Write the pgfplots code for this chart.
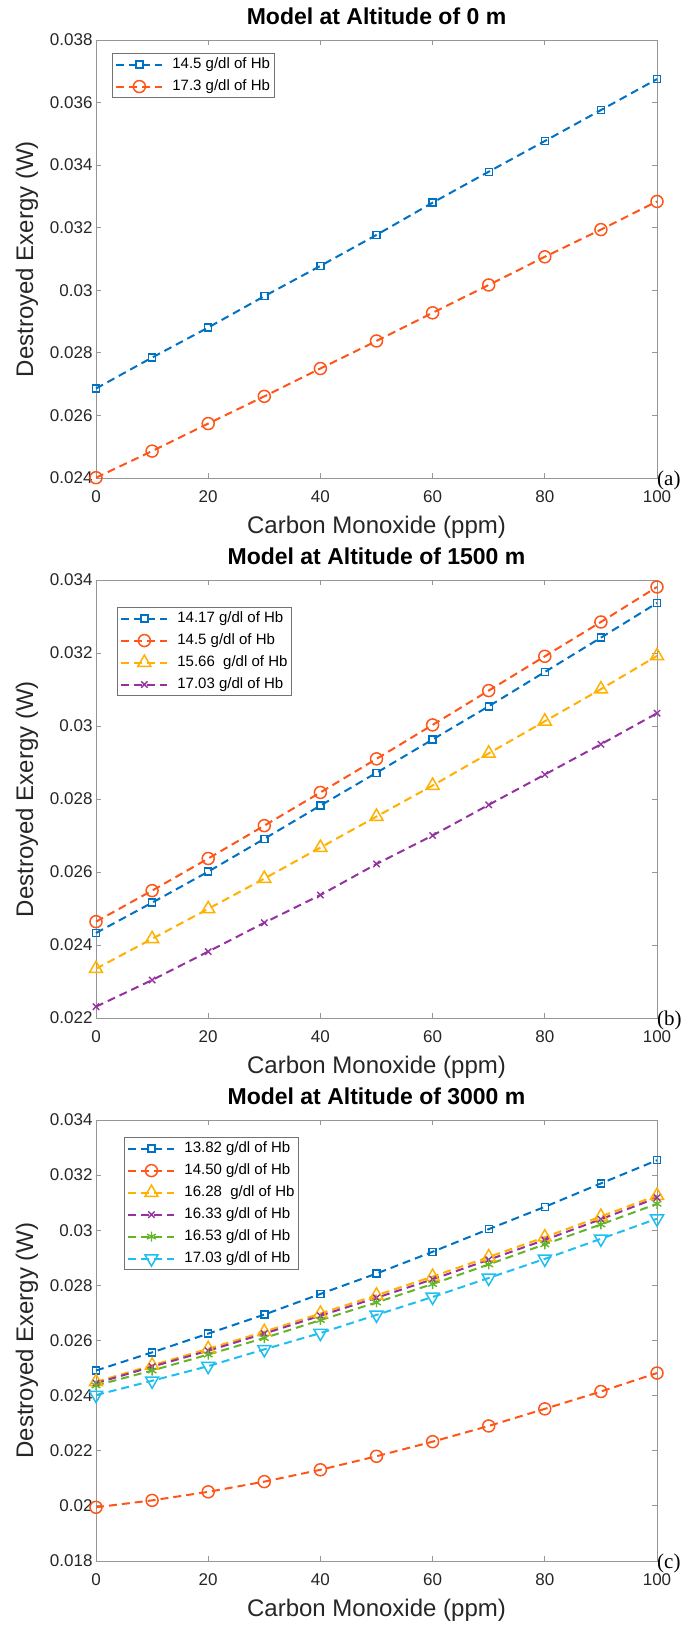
\documentclass[border=0pt]{standalone}
\usepackage{fontspec}
\setmainfont{Liberation Sans}
\newfontfamily\timesfont{Liberation Serif}
\usepackage{pgfplots}
\pgfplotsset{compat=1.18}
\definecolor{cb}{RGB}{0,114,196}
\definecolor{co}{RGB}{255,85,25}
\definecolor{cy}{RGB}{255,176,0}
\definecolor{cp}{RGB}{150,50,160}
\definecolor{cg}{RGB}{100,180,40}
\definecolor{cc}{RGB}{30,190,240}
\definecolor{axgray}{RGB}{150,150,150}
\pgfplotsset{
 panel/.style={
  width=561pt, scale only axis, xmin=0, xmax=100,
  xtick={0,20,40,60,80,100}, xticklabels={0,20,40,60,80,100},
  scaled y ticks=false, tick align=inside, major tick length=5pt,
  axis line style={draw=axgray, line width=0.9pt},
  tick style={draw=axgray, line width=0.9pt},
  ticklabel style={font=\fontsize{17}{20}\selectfont, text=black!85},
  xticklabel style={yshift=-9pt},
  label style={font=\fontsize{24}{28}\selectfont, text=black!85},
  title style={font=\bfseries\fontsize{23}{26}\selectfont, at={(axis description cs:0.5,1.04)}, anchor=center, yshift=0pt},
  xlabel style={at={(axis description cs:0.5,-0.112)}, anchor=center},
  ylabel style={at={(axis description cs:-0.123,0.5)}, anchor=center},
  xlabel={Carbon Monoxide (ppm)}, ylabel={Destroyed Exergy (W)},
  clip=false,
  legend cell align=left,
  legend image code/.code={\draw[mark repeat=2,mark phase=2,##1] plot coordinates {(0pt,0pt) (23pt,0pt) (46pt,0pt)};},
  legend style={anchor=north west, draw=black!55, line width=0.8pt, fill=white,
    font=\fontsize{15}{18}\selectfont, inner sep=3pt,
    nodes={inner sep=1pt, text height=11pt, text depth=3pt}, row sep=6pt,
    /tikz/every odd column/.append style={column sep=8pt}},
 },
 ser/.style={color=#1, line width=2pt, dash pattern=on 8pt off 5pt},
 msq/.style={mark=square, mark size=3.5pt, mark options={solid, line width=1.4pt}},
 mci/.style={mark=o, mark size=6pt, mark options={solid, line width=1.5pt}},
 mtr/.style={mark=triangle, mark size=7.5pt, mark options={solid, line width=1.5pt}},
 mx/.style={mark=x, mark size=4.5pt, mark options={solid, line width=1.4pt}},
 mas/.style={mark=asterisk, mark size=5pt, mark options={solid, line width=1.4pt}},
 mtd/.style={mark=triangle, mark size=7.5pt, mark options={solid, line width=1.5pt, rotate=180}},
}
\begin{document}
\begin{tikzpicture}
\useasboundingbox (0pt,0pt) rectangle (683pt,-1625pt);
% ---------------- (a)
\begin{axis}[panel, at={(96pt,-478pt)}, anchor=south west, height=438pt,
  ymin=0.024, ymax=0.038, ytick={0.024,0.026,0.028,0.030,0.032,0.034,0.036,0.038},
  yticklabels={0.024,0.026,0.028,0.03,0.032,0.034,0.036,0.038},
  title={Model at Altitude of 0 m},
  legend style={at={(axis description cs:0.0285,0.970)}}]
\addplot[ser=cb, msq] coordinates {(0,0.02686) (10,0.02785) (20,0.02881) (30,0.02981) (40,0.03078) (50,0.03177) (60,0.03280) (70,0.03379) (80,0.03477) (90,0.03576) (100,0.03675)};
\addlegendentry{14.5 g/dl of Hb}
\addplot[ser=co, mci] coordinates {(0,0.02401) (10,0.02486) (20,0.02574) (30,0.02661) (40,0.02750) (50,0.02838) (60,0.02928) (70,0.03017) (80,0.03107) (90,0.03194) (100,0.03284)};
\addlegendentry{17.3 g/dl of Hb}
\node[anchor=base west, inner sep=0pt, font=\timesfont\fontsize{21}{21}\selectfont] at ([yshift=-7pt]rel axis cs:1,0) {(a)};
\end{axis}
% ---------------- (b)
\begin{axis}[panel, at={(96pt,-1018pt)}, anchor=south west, height=438pt,
  ymin=0.022, ymax=0.034, ytick={0.022,0.024,0.026,0.028,0.030,0.032,0.034},
  yticklabels={0.022,0.024,0.026,0.028,0.03,0.032,0.034},
  title={Model at Altitude of 1500 m},
  legend style={at={(axis description cs:0.0374,0.938)}}]
\addplot[ser=cb, msq] coordinates {(0,0.02433) (10,0.02516) (20,0.02601) (30,0.02691) (40,0.02782) (50,0.02872) (60,0.02963) (70,0.03054) (80,0.03148) (90,0.03242) (100,0.03337)};
\addlegendentry{14.17 g/dl of Hb}
\addplot[ser=co, mci] coordinates {(0,0.02464) (10,0.02549) (20,0.02637) (30,0.02727) (40,0.02818) (50,0.02910) (60,0.03003) (70,0.03097) (80,0.03191) (90,0.03285) (100,0.03381)};
\addlegendentry{14.5 g/dl of Hb}
\addplot[ser=cy, mtr] coordinates {(0,0.02335) (10,0.02417) (20,0.02499) (30,0.02582) (40,0.02667) (50,0.02752) (60,0.02837) (70,0.02925) (80,0.03013) (90,0.03101) (100,0.03192)};
\addlegendentry{15.66\ \ g/dl of Hb}
\addplot[ser=cp, mx] coordinates {(0,0.02231) (10,0.02304) (20,0.02382) (30,0.02461) (40,0.02537) (50,0.02622) (60,0.02700) (70,0.02784) (80,0.02867) (90,0.02950) (100,0.03035)};
\addlegendentry{17.03 g/dl of Hb}
\node[anchor=base west, inner sep=0pt, font=\timesfont\fontsize{21}{21}\selectfont] at ([yshift=-7pt]rel axis cs:1,0) {(b)};
\end{axis}
% ---------------- (c)
\begin{axis}[panel, at={(96pt,-1561pt)}, anchor=south west, height=441pt,
  ymin=0.018, ymax=0.034, ytick={0.018,0.020,0.022,0.024,0.026,0.028,0.030,0.032,0.034},
  yticklabels={0.018,0.02,0.022,0.024,0.026,0.028,0.03,0.032,0.034},
  title={Model at Altitude of 3000 m},
  legend style={at={(axis description cs:0.05,0.961)}}]
\addplot[ser=cb, msq] coordinates {(0,0.02491) (10,0.02557) (20,0.02625) (30,0.02694) (40,0.02769) (50,0.02843) (60,0.02922) (70,0.03004) (80,0.03085) (90,0.03170) (100,0.03254)};
\addlegendentry{13.82 g/dl of Hb}
\addplot[ser=co, mci] coordinates {(0,0.01995) (10,0.02020) (20,0.02051) (30,0.02088) (40,0.02131) (50,0.02180) (60,0.02233) (70,0.02290) (80,0.02352) (90,0.02415) (100,0.02482)};
\addlegendentry{14.50 g/dl of Hb}
\addplot[ser=cy, mtr] coordinates {(0,0.02450) (10,0.02510) (20,0.02570) (30,0.02632) (40,0.02698) (50,0.02764) (60,0.02832) (70,0.02903) (80,0.02975) (90,0.03050) (100,0.03126)};
\addlegendentry{16.28\ \ g/dl of Hb}
\addplot[ser=cp, mx] coordinates {(0,0.02445) (10,0.02505) (20,0.02563) (30,0.02625) (40,0.02690) (50,0.02755) (60,0.02822) (70,0.02893) (80,0.02965) (90,0.03040) (100,0.03118)};
\addlegendentry{16.33 g/dl of Hb}
\addplot[ser=cg, mas] coordinates {(0,0.02437) (10,0.02491) (20,0.02549) (30,0.02609) (40,0.02674) (50,0.02738) (60,0.02805) (70,0.02876) (80,0.02949) (90,0.03021) (100,0.03096)};
\addlegendentry{16.53 g/dl of Hb}
\addplot[ser=cc, mtd] coordinates {(0,0.02402) (10,0.02454) (20,0.02507) (30,0.02568) (40,0.02627) (50,0.02693) (60,0.02758) (70,0.02827) (80,0.02896) (90,0.02969) (100,0.03042)};
\addlegendentry{17.03 g/dl of Hb}
\node[anchor=base west, inner sep=0pt, font=\timesfont\fontsize{21}{21}\selectfont] at ([yshift=-7pt]rel axis cs:1,0) {(c)};
\end{axis}
\end{tikzpicture}
\end{document}
